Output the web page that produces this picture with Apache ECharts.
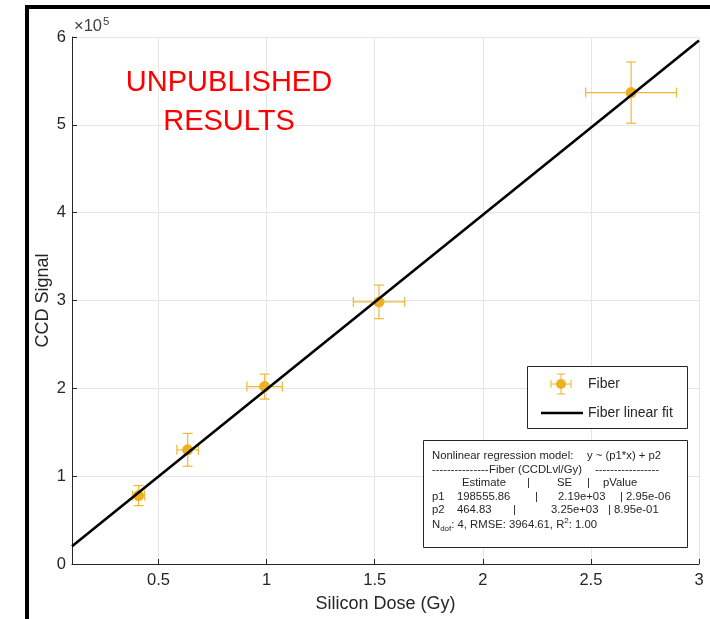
<!DOCTYPE html>
<html><head><meta charset="utf-8">
<script src="https://cdn.jsdelivr.net/npm/echarts@6/dist/echarts.min.js"></script>
<style>html,body{margin:0;padding:0;background:#fff}#c{width:710px;height:619px}</style>
</head><body><div id="c"></div>
<script>
// Data
const doseX     = [0.408, 0.635, 0.991, 1.52, 2.686];
const signalY   = [77900, 130000, 202000, 298400, 536700];
const doseErr   = [0.028, 0.05, 0.082, 0.119, 0.21];
const signalErr = [11400, 18700, 14200, 19100, 34900];
const fitX = [0.1, 3.0];
const fitY = [20320, 596132];
const yTickLabels = ['0', '1', '2', '3', '4', '5', '6'];
const statsLines = {
  model: ['Nonlinear regression model:', 'y ~ (p1*x) + p2'],
  header: ['Estimate', '|', 'SE', '|', 'pValue'],
  p1: ['p1', '198555.86', '|', '2.19e+03', '| 2.95e-06'],
  p2: ['p2', '464.83', '|', '3.25e+03', '| 8.95e-01']
};

const FONT = '"Liberation Sans", Arial, Helvetica, sans-serif';
const TXT = '#262626';
const ORANGE = '#EDB120';
const ZTOP = 100;

const chart = echarts.init(document.getElementById('c'), null, {renderer: 'canvas'});

function t(x, y, text, size, extra) {
  return {
    type: 'text', x: x, y: y, z: ZTOP + 2,
    style: Object.assign({text: text, fill: TXT, font: size + 'px ' + FONT, verticalAlign: 'middle'}, extra || {})
  };
}
function ln(x1, y1, x2, y2, color, w) {
  return {type: 'line', z: ZTOP + 2, shape: {x1: x1, y1: y1, x2: x2, y2: y2}, style: {stroke: color, lineWidth: w}};
}

const FS = 11.3;
const statsG = [
  {type: 'rect', z: ZTOP + 1, shape: {x: 423.5, y: 440.5, width: 264, height: 107}, style: {fill: '#fff', stroke: '#262626', lineWidth: 1}},
  t(432, 456, statsLines.model[0], FS),
  t(587, 456, statsLines.model[1], FS),
  t(432, 469.5, '---------------', FS),
  t(489, 469.5, 'Fiber (CCDLvl/Gy)', FS),
  t(595, 469.5, '-----------------', FS),
  t(462, 483, statsLines.header[0], FS),
  t(527, 483, statsLines.header[1], FS),
  t(557, 483, statsLines.header[2], FS),
  t(587, 483, statsLines.header[3], FS),
  t(603, 483, statsLines.header[4], FS),
  t(432, 496.5, statsLines.p1[0], FS),
  t(457, 496.5, statsLines.p1[1], FS),
  t(535, 496.5, statsLines.p1[2], FS),
  t(558, 496.5, statsLines.p1[3], FS),
  t(620, 496.5, statsLines.p1[4], FS),
  t(432, 510, statsLines.p2[0], FS),
  t(457, 510, statsLines.p2[1], FS),
  t(513, 510, statsLines.p2[2], FS),
  t(551, 510, statsLines.p2[3], FS),
  t(608, 510, statsLines.p2[4], FS),
  {type: 'text', x: 432, y: 525, z: ZTOP + 2, style: {
    text: '{n|N}{sub|dof}{n|: 4, RMSE: 3964.61, R}{sup|2}{n|: 1.00}',
    verticalAlign: 'middle',
    rich: {
      n: {fontSize: FS, fontFamily: FONT, fill: TXT, color: TXT},
      sub: {fontSize: 8, fontFamily: FONT, fill: TXT, color: TXT, verticalAlign: 'bottom', padding: [8, 0, 0, 0]},
      sup: {fontSize: 8, fontFamily: FONT, fill: TXT, color: TXT, verticalAlign: 'top', padding: [0, 0, 6, 0]}
    }
  }}
];

const legendG = [
  {type: 'rect', z: ZTOP + 1, shape: {x: 527.5, y: 366.5, width: 160, height: 62}, style: {fill: '#fff', stroke: '#262626', lineWidth: 1}},
  ln(551, 384, 571, 384, ORANGE, 1),
  ln(551, 380, 551, 388, ORANGE, 1),
  ln(571, 380, 571, 388, ORANGE, 1),
  ln(561, 374, 561, 394, ORANGE, 1),
  ln(557, 374, 565, 374, ORANGE, 1),
  ln(557, 394, 565, 394, ORANGE, 1),
  {type: 'circle', z: ZTOP + 3, shape: {cx: 561, cy: 384, r: 5}, style: {fill: ORANGE}},
  t(588, 384, 'Fiber', 14),
  ln(541, 413, 583, 413, '#000', 2.5),
  t(588, 413, 'Fiber linear fit', 14)
];

const option = {
  backgroundColor: '#fff',
  animation: false,
  grid: {left: 72, right: 11, top: 37, bottom: 55},
  xAxis: {
    type: 'value', min: 0.1, max: 3,
    name: 'Silicon Dose (Gy)', nameLocation: 'middle', nameGap: 31, nameMoveOverlap: false,
    nameTextStyle: {fontSize: 18, fontFamily: FONT, color: TXT},
    axisLine: {show: true, lineStyle: {color: TXT, width: 1}},
    axisTick: {show: true, inside: true, length: 5, lineStyle: {color: TXT}},
    axisLabel: {showMinLabel: false, fontSize: 16.5, fontFamily: FONT, color: TXT, margin: 8},
    splitLine: {show: true, lineStyle: {color: '#e6e6e6', width: 1}}
  },
  yAxis: {
    type: 'value', min: 0, max: 600000, interval: 100000,
    name: 'CCD Signal', nameLocation: 'middle', nameGap: 20, nameMoveOverlap: false,
    nameTextStyle: {fontSize: 18, fontFamily: FONT, color: TXT},
    axisLine: {show: true, lineStyle: {color: TXT, width: 1}},
    axisTick: {show: true, inside: true, length: 5, lineStyle: {color: TXT}},
    axisLabel: {fontSize: 16.5, fontFamily: FONT, color: TXT, margin: 6,
      formatter: function (v) { return yTickLabels[Math.round(v / 100000)]; }},
    splitLine: {show: true, lineStyle: {color: '#e6e6e6', width: 1}}
  },
  series: [
    {
      type: 'custom', name: 'Fiber errors', z: 3,
      data: doseX.map((x, i) => [x, signalY[i], doseErr[i], signalErr[i]]),
      renderItem: function (params, api) {
        const x = api.value(0), y = api.value(1), ex = api.value(2), ey = api.value(3);
        const l = api.coord([x - ex, y]), r = api.coord([x + ex, y]);
        const tp = api.coord([x, y + ey]), bt = api.coord([x, y - ey]);
        const c = 5;
        const st = {stroke: ORANGE, lineWidth: 1.2, opacity: 0.9};
        return {type: 'group', children: [
          {type: 'line', shape: {x1: l[0], y1: l[1], x2: r[0], y2: r[1]}, style: st},
          {type: 'line', shape: {x1: l[0], y1: l[1] - c, x2: l[0], y2: l[1] + c}, style: st},
          {type: 'line', shape: {x1: r[0], y1: r[1] - c, x2: r[0], y2: r[1] + c}, style: st},
          {type: 'line', shape: {x1: tp[0], y1: tp[1], x2: bt[0], y2: bt[1]}, style: st},
          {type: 'line', shape: {x1: tp[0] - c, y1: tp[1], x2: tp[0] + c, y2: tp[1]}, style: st},
          {type: 'line', shape: {x1: bt[0] - c, y1: bt[1], x2: bt[0] + c, y2: bt[1]}, style: st}
        ]};
      }
    },
    {
      type: 'scatter', name: 'Fiber', z: 4,
      symbol: 'circle', symbolSize: 11,
      itemStyle: {color: ORANGE, opacity: 1},
      data: doseX.map((x, i) => [x, signalY[i]])
    },
    {
      type: 'line', name: 'Fiber linear fit', z: 5,
      symbol: 'none',
      lineStyle: {color: '#000', width: 2.6},
      data: fitX.map((x, i) => [x, fitY[i]])
    }
  ],
  graphic: [
    {type: 'rect', z: ZTOP, shape: {x: 27, y: 7, width: 720, height: 640}, style: {fill: 'none', stroke: '#000', lineWidth: 4}},
    {type: 'text', x: 74, y: 26, z: ZTOP, style: {
      text: '{n|\u00d710}{s|5}', verticalAlign: 'middle',
      rich: {
        n: {fontSize: 16.5, fontFamily: FONT, fill: '#404040', color: '#404040'},
        s: {fontSize: 11.5, fontFamily: FONT, fill: '#404040', color: '#404040', verticalAlign: 'top', padding: [0, 0, 9, 1]}
      }
    }},
    {type: 'text', x: 229, y: 83, z: ZTOP, style: {text: 'UNPUBLISHED', fill: '#ff0000', font: '29px ' + FONT, align: 'center', verticalAlign: 'middle'}},
    {type: 'text', x: 229, y: 122, z: ZTOP, style: {text: 'RESULTS', fill: '#ff0000', font: '29px ' + FONT, align: 'center', verticalAlign: 'middle'}},
    {type: 'group', z: ZTOP, children: legendG},
    {type: 'group', z: ZTOP, children: statsG}
  ]
};
chart.setOption(option);
</script>
</body></html>
